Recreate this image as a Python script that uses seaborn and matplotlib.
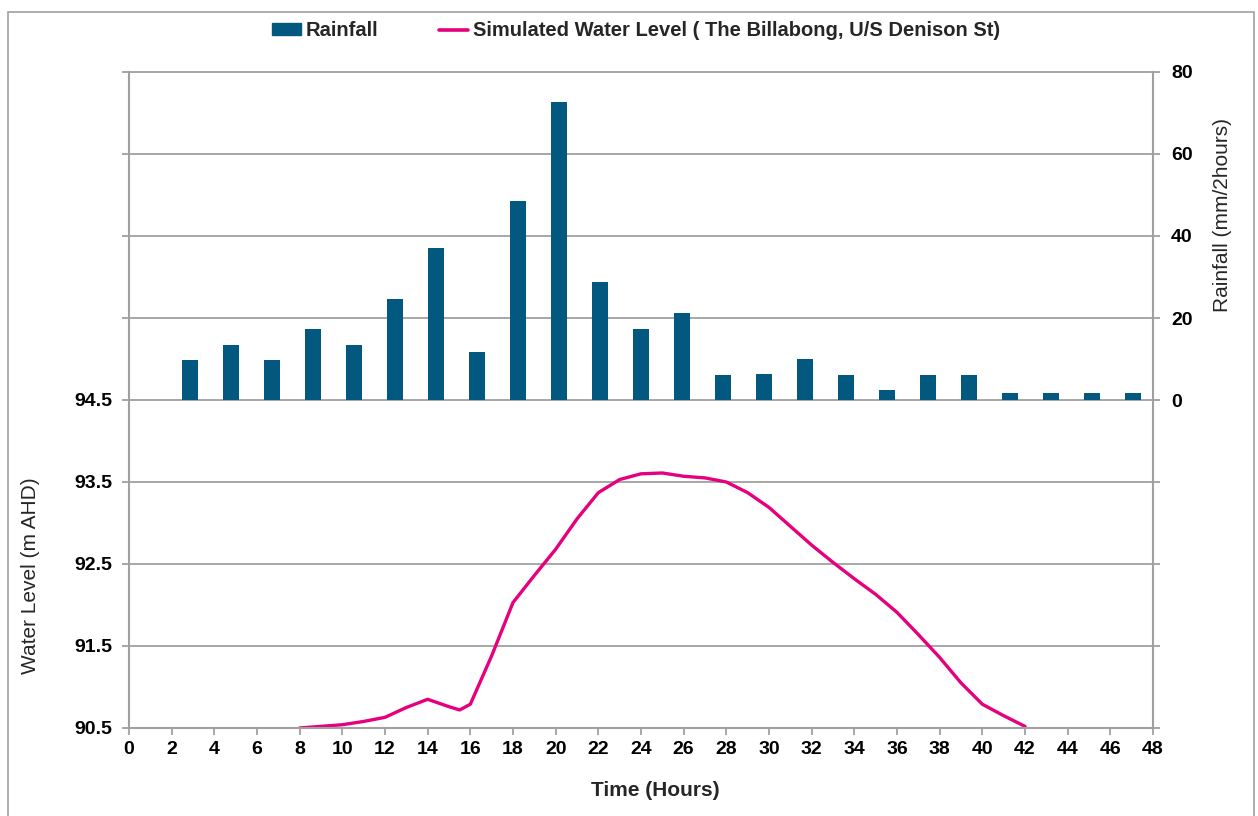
import numpy as np
import pandas as pd
import matplotlib
matplotlib.use("Agg")
import matplotlib.pyplot as plt
import seaborn as sns
from matplotlib.patches import Rectangle, Patch
from matplotlib.lines import Line2D

# ---------------- data ----------------
rain_slots = list(range(25))            # 2-hour slots, 0..48 h
rainfall = [0, 9.8, 13.4, 9.8, 17.2, 13.4, 24.6, 37.0, 11.6, 48.6, 72.6, 28.8,
            17.2, 21.2, 6.0, 6.4, 10.0, 6.0, 2.4, 6.0, 6.0, 1.8, 1.8, 1.8, 1.8]

wl_time = [8, 9, 10, 11, 12, 13, 14, 15, 15.5, 16, 17, 18, 19, 20, 21, 22, 23, 24,
           25, 26, 27, 28, 29, 30, 31, 32, 33, 34, 35, 36, 37, 38, 39, 40, 41, 42]
wl_level = [90.50, 90.52, 90.54, 90.58, 90.63, 90.75, 90.85, 90.76, 90.72, 90.79,
            91.38, 92.03, 92.36, 92.68, 93.05, 93.37, 93.53, 93.60, 93.61, 93.57,
            93.55, 93.50, 93.37, 93.19, 92.96, 92.73, 92.52, 92.32, 92.13, 91.91,
            91.64, 91.36, 91.05, 90.79, 90.65, 90.52]

wl_ticks = [90.5, 91.5, 92.5, 93.5, 94.5, 95.5, 96.5, 97.5, 98.5]
wl_labels = ["90.5", "91.5", "92.5", "93.5", "94.5", "", "", "", ""]
rain_ticks = [-80, -60, -40, -20, 0, 20, 40, 60, 80]
rain_labels = ["", "", "", "", "0", "20", "40", "60", "80"]
x_ticks = list(range(0, 49, 2))

# ---------------- style ----------------
sns.set_style("white")
plt.rcParams["font.family"] = ["Liberation Sans", "DejaVu Sans"]

bar_color = "#02587f"
line_color = "#e6007e"
grid_color = "#a0a0a0"

W, H = 1258, 816
fig = plt.figure(figsize=(W / 100, H / 100), dpi=100)
left, right, top, bottom = 129, 1153, 72, 728
ax = fig.add_axes([left / W, 1 - bottom / H, (right - left) / W, (bottom - top) / H])
ax2 = ax.twinx()

# bars on secondary axis (25 category slots across 0..48 h)
slot_w = 48 / len(rain_slots)
rain_x = [(s + 0.5) * slot_w for s in rain_slots]
df_rain = pd.DataFrame({"x": rain_x, "rain": rainfall})
sns.barplot(data=df_rain, x="x", y="rain", native_scale=True, ax=ax2,
            color=bar_color, saturation=1, width=0.39, linewidth=0)

# water level line
df_wl = pd.DataFrame({"t": wl_time, "lvl": wl_level})
sns.lineplot(data=df_wl, x="t", y="lvl", ax=ax, color=line_color, linewidth=2.4,
             solid_joinstyle="round", solid_capstyle="round")

ax.set_xlim(0, 48)
ax.set_ylim(90.5, 98.5)
ax2.set_ylim(-80, 80)
ax2.set_xlim(0, 48)

ax.set_xticks(x_ticks)
ax.set_xticklabels([str(t) for t in x_ticks])
ax.set_yticks(wl_ticks)
ax.set_yticklabels(wl_labels)
ax2.set_yticks(rain_ticks)
ax2.set_yticklabels(rain_labels)

ax.yaxis.grid(True, color=grid_color, linewidth=1.3)
ax.xaxis.grid(False)
ax.set_axisbelow(True)
for g in ax.get_ygridlines():
    g.set_clip_on(False)

for a in (ax, ax2):
    a.set_xlabel("")
    a.set_ylabel("")
    for s in a.spines.values():
        s.set_color(grid_color)
        s.set_linewidth(1.5)
ax.spines["top"].set_visible(False)
ax.spines["right"].set_visible(False)
ax2.spines["top"].set_visible(False)
ax2.spines["left"].set_visible(False)
ax2.spines["bottom"].set_visible(False)

tick_kw = dict(labelsize=14, labelcolor="black", color=grid_color, width=1.3, length=5)
ax.tick_params(axis="x", direction="out", bottom=True, pad=4, **tick_kw)
ax.tick_params(axis="y", direction="out", left=True, pad=7, **tick_kw)
ax2.tick_params(axis="y", direction="out", right=True, pad=8, **tick_kw)
for lab in ax.get_xticklabels() + ax.get_yticklabels() + ax2.get_yticklabels():
    lab.set_fontweight("bold")

# axis titles
fig.text(30 / W, 1 - 576 / H, "Water Level (m AHD)", rotation=90, ha="center",
         va="center", fontsize=15)
fig.text(1222 / W, 1 - 215 / H, "Rainfall (mm/2hours)", rotation=90, ha="center",
         va="center", fontsize=15)
fig.text(655 / W, 1 - 791 / H, "Time (Hours)", ha="center", va="center",
         fontsize=15, fontweight="bold")

# legend
handles = [Patch(facecolor=bar_color, edgecolor=bar_color),
           Line2D([0], [0], color=line_color, linewidth=2.6)]
labels = ["Rainfall", "Simulated Water Level ( The Billabong, U/S Denison St)"]
leg = fig.legend(handles, labels, loc="center", bbox_to_anchor=(636 / W, 1 - 31 / H),
                 ncol=2, frameon=False, handlelength=1.45, handleheight=0.55,
                 handletextpad=0.25, columnspacing=3.0,
                 prop={"size": 14.5, "weight": "bold"})

# outer chart border
fig.patches.append(Rectangle((8 / W, -0.02), (1254 - 8) / W, (810 - 6) / H + 0.02,
                             transform=fig.transFigure, fill=False,
                             edgecolor="#a0a0a0", linewidth=1.2))

fig.savefig("out.png", dpi=100)
